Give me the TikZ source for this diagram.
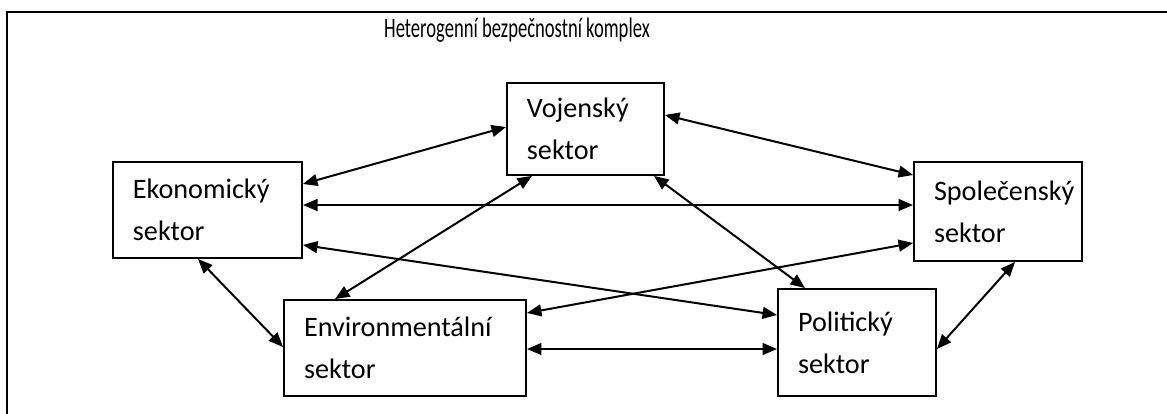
\documentclass[tikz,border=0pt]{standalone}
\usepackage{fontspec}
\setmainfont{Carlito}
\usepackage{tikz}
\usetikzlibrary{arrows.meta}
\usetikzlibrary{calc}
\tikzstyle{sector}=[rectangle,draw=black,line width=1pt,inner xsep=11pt,inner ysep=0pt,align=left,font=\fontsize{15.5}{23}\selectfont]
\tikzstyle{arrow}=[<->,>={Triangle[length=8pt,width=6.5pt]},line width=1.1pt]
\tikzstyle{frame}=[line width=1.1pt]

\begin{document}
\begin{tikzpicture}[x=0.55pt,y=-0.55pt]
      \useasboundingbox (0,0) rectangle (1167,414);
      \clip (0,0) rectangle (1167,414);
      \draw[frame] (7,12) rectangle (1190,440);
      \node[font=\fontsize{15.5}{18}\selectfont] at (517,30) (title) {\scalebox{0.66}[1]{Heterogenní bezpečnostní komplex}};
      \node[sector,text width=64.4pt,minimum height=50.6pt] at (585.5,129) (voj) {Vojenský\\sektor};
      \node[sector,text width=82pt,minimum height=52.8pt] at (207.5,210) (ek) {Ekonomický\\sektor};
      \node[sector,text width=70.4pt,minimum height=54.5pt] at (998,211.5) (sp) {Společenský\\sektor};
      \node[sector,text width=111.1pt,minimum height=52.8pt] at (405,348) (env) {Environmentální\\sektor};
      \node[sector,text width=64.9pt,minimum height=58.9pt] at (857,342.5) (pol) {Politický\\sektor};
      % from the economic sector
      \draw[arrow] ($(ek.east)+(0,-26)$) -- ($(voj.west)+(0,-2)$);
      \draw[arrow] ($(ek.east)+(0,-5)$) coordinate (h1) -- (h1 -| sp.west);
      \draw[arrow] ($(ek.east)+(0,35)$) -- ($(pol.west)+(0,-27.5)$);
      \draw[arrow] ($(ek.south)+(-9.5,0)$) -- ($(env.west)+(0,-1)$);
      % from the military sector
      \draw[arrow] ($(voj.south)+(-53.5,0)$) -- ($(env.north)+(-70,0)$);
      \draw[arrow] ($(voj.south)+(68.5,0)$) -- ($(pol.north)+(-52,0)$);
      \draw[arrow] ($(voj.east)+(0,-14)$) -- ($(sp.west)+(0,-36.5)$);
      % the rest
      \draw[arrow] ($(sp.west)+(0,31.5)$) -- ($(env.east)+(0,-35)$);
      \draw[arrow] ($(sp.south)+(17,0)$) -- ($(pol.east)+(0,6.5)$);
      \draw[arrow] ($(env.east)+(0,1)$) coordinate (h2) -- (h2 -| pol.west);
    \end{tikzpicture}
\end{document}
